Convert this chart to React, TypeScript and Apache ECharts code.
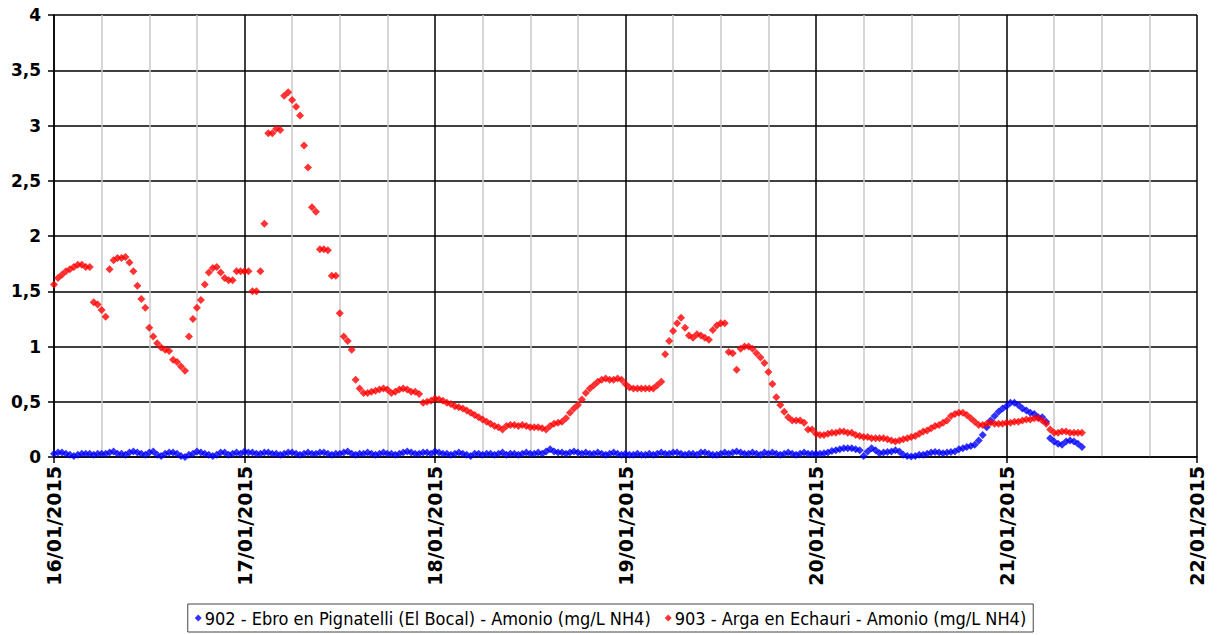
import React, { useEffect, useRef } from "react";
import * as echarts from "echarts";

// Tick labels (one per day; x values are hours since 16/01/2015 00:00)
const dateLabels = ["16/01/2015", "17/01/2015", "18/01/2015", "19/01/2015", "20/01/2015", "21/01/2015", "22/01/2015"];

const seriesNames = [
  "902 - Ebro en Pignatelli (El Bocal) - Amonio (mg/L NH4)",
  "903 - Arga en Echauri - Amonio (mg/L NH4)",
];

// Half-hourly readings, 903 - Arga en Echauri (red)
const red16 = [1.56, 1.62, 1.65, 1.68, 1.70, 1.72, 1.74, 1.74, 1.72, 1.72, 1.40, 1.38, 1.33, 1.27, 1.70, 1.78, 1.80, 1.80, 1.81, 1.76, 1.68, 1.55, 1.43, 1.35, 1.17, 1.09, 1.03, 0.99, 0.97, 0.96, 0.88, 0.86, 0.82, 0.78, 1.09, 1.25, 1.35, 1.42, 1.56, 1.67, 1.71, 1.72, 1.67, 1.62, 1.60, 1.60, 1.68, 1.68];
const red17 = [1.68, 1.68, 1.50, 1.50, 1.68, 2.11, 2.93, 2.93, 2.97, 2.96, 3.27, 3.30, 3.23, 3.17, 3.09, 2.82, 2.62, 2.26, 2.22, 1.88, 1.88, 1.87, 1.64, 1.64, 1.30, 1.09, 1.05, 0.97, 0.70, 0.62, 0.58, 0.58, 0.59, 0.60, 0.61, 0.62, 0.61, 0.58, 0.59, 0.61, 0.62, 0.61, 0.59, 0.59, 0.57, 0.49, 0.50, 0.51];
const red18 = [0.53, 0.52, 0.51, 0.49, 0.48, 0.46, 0.45, 0.44, 0.42, 0.40, 0.38, 0.36, 0.34, 0.32, 0.30, 0.28, 0.27, 0.25, 0.28, 0.29, 0.29, 0.28, 0.29, 0.28, 0.27, 0.27, 0.27, 0.26, 0.25, 0.28, 0.30, 0.31, 0.32, 0.35, 0.40, 0.44, 0.47, 0.52, 0.58, 0.62, 0.65, 0.68, 0.70, 0.71, 0.70, 0.70, 0.71, 0.70];
const red19 = [0.66, 0.63, 0.62, 0.62, 0.62, 0.62, 0.62, 0.62, 0.65, 0.68, 0.93, 1.05, 1.14, 1.21, 1.26, 1.17, 1.10, 1.08, 1.11, 1.10, 1.08, 1.06, 1.15, 1.19, 1.21, 1.21, 0.95, 0.94, 0.79, 0.98, 1.00, 1.00, 0.98, 0.94, 0.90, 0.85, 0.77, 0.66, 0.54, 0.47, 0.41, 0.36, 0.33, 0.33, 0.33, 0.31, 0.25, 0.25];
const red20 = [0.21, 0.20, 0.20, 0.21, 0.22, 0.22, 0.23, 0.23, 0.22, 0.22, 0.20, 0.19, 0.18, 0.18, 0.17, 0.17, 0.17, 0.17, 0.16, 0.15, 0.14, 0.15, 0.16, 0.17, 0.18, 0.19, 0.21, 0.23, 0.24, 0.26, 0.28, 0.29, 0.31, 0.33, 0.37, 0.39, 0.40, 0.40, 0.38, 0.35, 0.32, 0.29, 0.29, 0.30, 0.31, 0.30, 0.30, 0.30];
const red21 = [0.31, 0.31, 0.32, 0.32, 0.33, 0.34, 0.34, 0.35, 0.35, 0.33, 0.30, 0.25, 0.22, 0.22, 0.23, 0.23, 0.22, 0.22, 0.22, 0.22];

// Half-hourly readings, 902 - Ebro en Pignatelli (blue)
const blue16 = [0.03, 0.04, 0.04, 0.03, 0.02, 0.01, 0.02, 0.03, 0.03, 0.03, 0.02, 0.03, 0.03, 0.03, 0.04, 0.05, 0.03, 0.03, 0.02, 0.04, 0.05, 0.04, 0.03, 0.02, 0.04, 0.05, 0.02, 0.01, 0.03, 0.04, 0.04, 0.03, 0.01, 0.00, 0.02, 0.03, 0.05, 0.04, 0.03, 0.02, 0.01, 0.02, 0.04, 0.04, 0.02, 0.03, 0.04, 0.03];
const blue17 = [0.05, 0.04, 0.04, 0.03, 0.03, 0.04, 0.04, 0.03, 0.03, 0.02, 0.03, 0.04, 0.04, 0.03, 0.02, 0.03, 0.04, 0.03, 0.03, 0.04, 0.04, 0.03, 0.02, 0.03, 0.03, 0.04, 0.05, 0.03, 0.02, 0.03, 0.03, 0.04, 0.03, 0.02, 0.03, 0.04, 0.03, 0.03, 0.02, 0.03, 0.04, 0.05, 0.04, 0.03, 0.03, 0.04, 0.04, 0.03];
const blue18 = [0.05, 0.04, 0.03, 0.03, 0.02, 0.03, 0.04, 0.03, 0.02, 0.01, 0.03, 0.03, 0.02, 0.03, 0.03, 0.02, 0.03, 0.04, 0.02, 0.03, 0.03, 0.02, 0.03, 0.04, 0.03, 0.03, 0.04, 0.03, 0.05, 0.07, 0.05, 0.04, 0.04, 0.03, 0.04, 0.05, 0.04, 0.03, 0.04, 0.03, 0.03, 0.04, 0.03, 0.02, 0.03, 0.04, 0.03, 0.02];
const blue19 = [0.03, 0.02, 0.02, 0.03, 0.02, 0.02, 0.03, 0.02, 0.03, 0.04, 0.03, 0.03, 0.04, 0.04, 0.03, 0.02, 0.03, 0.03, 0.02, 0.04, 0.04, 0.03, 0.02, 0.02, 0.03, 0.04, 0.03, 0.04, 0.05, 0.04, 0.03, 0.03, 0.04, 0.03, 0.02, 0.04, 0.03, 0.04, 0.03, 0.02, 0.03, 0.04, 0.03, 0.02, 0.03, 0.04, 0.03, 0.03];
const blue20 = [0.03, 0.03, 0.035, 0.04, 0.055, 0.06, 0.07, 0.08, 0.08, 0.08, 0.07, 0.06, 0.01, 0.05, 0.08, 0.06, 0.035, 0.04, 0.045, 0.05, 0.06, 0.05, 0.02, 0.01, 0.005, 0.01, 0.02, 0.02, 0.03, 0.04, 0.045, 0.04, 0.035, 0.04, 0.045, 0.05, 0.07, 0.08, 0.09, 0.10, 0.11, 0.15, 0.20, 0.27, 0.33, 0.37, 0.41, 0.44];
const blue21 = [0.46, 0.49, 0.49, 0.47, 0.44, 0.42, 0.40, 0.39, 0.36, 0.36, 0.32, 0.17, 0.14, 0.12, 0.11, 0.14, 0.15, 0.14, 0.12, 0.09];

const STEP_HOURS = 0.5;
const toPoints = (vals: number[]) => vals.map((v, i) => [i * STEP_HOURS, v]);

export default function App() {
  const ref = useRef<HTMLDivElement>(null);
  useEffect(() => {
    if (!ref.current) return;
    const chart = echarts.init(ref.current, null, { renderer: "svg" });
    const red = toPoints([...red16, ...red17, ...red18, ...red19, ...red20, ...red21]);
    const blue = toPoints([...blue16, ...blue17, ...blue18, ...blue19, ...blue20, ...blue21]);
    const font = "'DejaVu Sans', Verdana, sans-serif";
    chart.setOption({
      animation: false,
      backgroundColor: "#ffffff",
      grid: { left: 54, right: 24, top: 15, bottom: 178, containLabel: false },
      legend: {
        bottom: 3,
        left: "center",
        data: seriesNames.map((n) => ({ name: n, icon: "diamond" })),
        itemWidth: 7,
        itemHeight: 7,
        itemGap: 14,
        padding: [5, 7],
        borderColor: "#444",
        borderWidth: 1,
        borderRadius: 0,
        textStyle: { fontFamily: "'DejaVu Sans Condensed', 'DejaVu Sans', sans-serif", fontSize: 18, color: "#000", padding: [0, 0, 0, -2] },
      },
      xAxis: {
        type: "value",
        min: 0,
        max: 144,
        interval: 24,
        axisLine: { show: true, lineStyle: { color: "#000", width: 1.5 } },
        axisTick: { show: true, length: 6, lineStyle: { color: "#000", width: 1.5 } },
        minorTick: { show: false, splitNumber: 4 },
        splitLine: { show: true, lineStyle: { color: "#000", width: 1.5 } },
        minorSplitLine: { show: true, lineStyle: { color: "#c8c8c8", width: 1.5 } },
        axisLabel: {
          rotate: 90,
          margin: 9,
          fontFamily: font,
          fontWeight: "bold",
          fontSize: 19,
          color: "#000",
          formatter: (v: number) => dateLabels[Math.round(v / 24)] ?? "",
        },
      },
      yAxis: {
        type: "value",
        min: 0,
        max: 4,
        interval: 0.5,
        axisLine: { show: true, lineStyle: { color: "#000", width: 1.5 } },
        axisTick: { show: true, length: 6, lineStyle: { color: "#000", width: 1.5 } },
        splitLine: { show: true, lineStyle: { color: "#000", width: 1.5 } },
        axisLabel: {
          margin: 13,
          fontFamily: font,
          fontWeight: "bold",
          fontSize: 17,
          color: "#000",
          formatter: (v: number) => String(v).replace(".", ","),
        },
      },
      series: [
        {
          name: seriesNames[0],
          type: "scatter",
          symbol: "diamond",
          symbolSize: 8,
          itemStyle: { color: "#0000ff" },
          data: blue,
        },
        {
          name: seriesNames[1],
          type: "scatter",
          symbol: "diamond",
          symbolSize: 8,
          itemStyle: { color: "#ff0000" },
          data: red,
        },
      ],
    });
    return () => chart.dispose();
  }, []);
  return <div ref={ref} style={{ position: "fixed", left: 0, top: 0, width: 1221, height: 635 }} />;
}
